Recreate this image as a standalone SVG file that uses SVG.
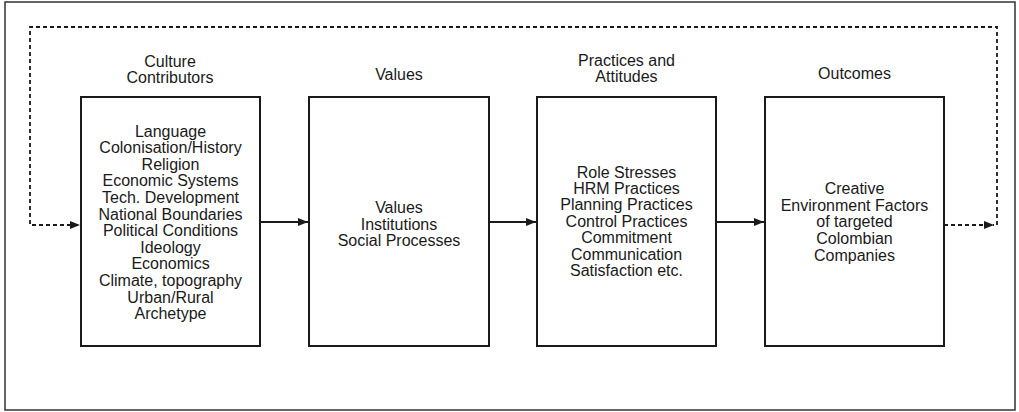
<svg xmlns="http://www.w3.org/2000/svg" width="1019" height="412" viewBox="0 0 1019 412">
<defs>
<style>
.frame{fill:#fff;stroke:#333;stroke-width:1.5}
.box{fill:#fff;stroke:#1a1a1a;stroke-width:2}
.t{font-family:"Liberation Sans",Arial,sans-serif;font-size:16px;fill:#1a1a1a;text-anchor:middle}
.solid{fill:none;stroke:#1a1a1a;stroke-width:1.8}
.dash{fill:none;stroke:#1a1a1a;stroke-width:1.8;stroke-dasharray:4 3}
</style>
<marker id="ah" viewBox="0 0 10 8" refX="10" refY="4" markerWidth="10" markerHeight="8" markerUnits="userSpaceOnUse" orient="auto">
<path d="M0,0 L10,4 L0,8 Z" fill="#1a1a1a"/>
</marker>
</defs>
<rect class="frame" x="5" y="2" width="1010" height="408"/>
<g id="connectors">
<path class="dash" d="M997,225 V27 H30 V225 H80" marker-end="url(#ah)"/>
<path class="dash" d="M944,225 H994" marker-end="url(#ah)"/>
<path class="solid" d="M261,222 H308" marker-end="url(#ah)"/>
<path class="solid" d="M489,222 H536" marker-end="url(#ah)"/>
<path class="solid" d="M717,222 H764" marker-end="url(#ah)"/>
</g>
<g id="culture">
<text class="t" x="170" y="67">Culture</text>
<text class="t" x="170" y="83">Contributors</text>
<rect class="box" x="81" y="97" width="179" height="249"/>
<text class="t" x="170.5" y="136.5">Language</text>
<text class="t" x="170.5" y="153.1">Colonisation/History</text>
<text class="t" x="170.5" y="169.7">Religion</text>
<text class="t" x="170.5" y="186.3">Economic Systems</text>
<text class="t" x="170.5" y="202.9">Tech. Development</text>
<text class="t" x="170.5" y="219.5">National Boundaries</text>
<text class="t" x="170.5" y="236.1">Political Conditions</text>
<text class="t" x="170.5" y="252.7">Ideology</text>
<text class="t" x="170.5" y="269.3">Economics</text>
<text class="t" x="170.5" y="285.9">Climate, topography</text>
<text class="t" x="170.5" y="302.5">Urban/Rural</text>
<text class="t" x="170.5" y="319.1">Archetype</text>
</g>
<g id="values">
<text class="t" x="399" y="80">Values</text>
<rect class="box" x="309" y="97" width="180" height="249"/>
<text class="t" x="399" y="213">Values</text>
<text class="t" x="399" y="229.6">Institutions</text>
<text class="t" x="399" y="246.2">Social Processes</text>
</g>
<g id="practices">
<text class="t" x="626.5" y="66">Practices and</text>
<text class="t" x="626.5" y="82">Attitudes</text>
<rect class="box" x="537" y="97" width="179" height="249"/>
<text class="t" x="626.5" y="177.5">Role Stresses</text>
<text class="t" x="626.5" y="193.9">HRM Practices</text>
<text class="t" x="626.5" y="210.3">Planning Practices</text>
<text class="t" x="626.5" y="226.7">Control Practices</text>
<text class="t" x="626.5" y="243.1">Commitment</text>
<text class="t" x="626.5" y="259.5">Communication</text>
<text class="t" x="626.5" y="275.9">Satisfaction etc.</text>
</g>
<g id="outcomes">
<text class="t" x="854.5" y="79">Outcomes</text>
<rect class="box" x="765" y="97" width="179" height="249"/>
<text class="t" x="854.5" y="194">Creative</text>
<text class="t" x="854.5" y="210.7">Environment Factors</text>
<text class="t" x="854.5" y="227.4">of targeted</text>
<text class="t" x="854.5" y="244.1">Colombian</text>
<text class="t" x="854.5" y="260.8">Companies</text>
</g>
</svg>
